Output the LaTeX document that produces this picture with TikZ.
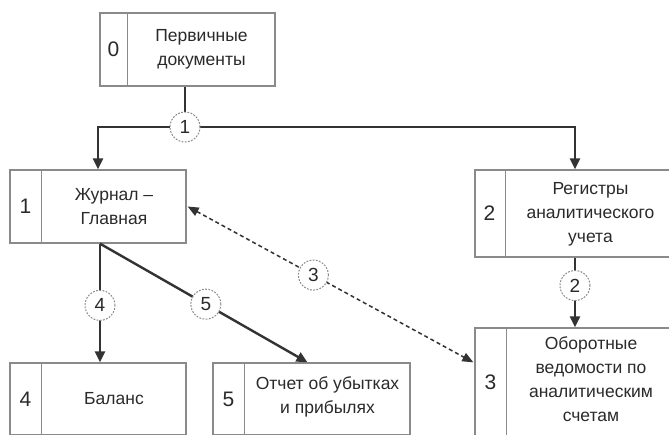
\documentclass[tikz,border=0pt]{standalone}
\usepackage{fontspec}
\setmainfont{Liberation Sans}
\usetikzlibrary{arrows.meta,calc}
\definecolor{boxgray}{HTML}{8A8A8A}
\definecolor{linegray}{HTML}{333333}
\definecolor{txtgray}{HTML}{2A2A2A}
\tikzset{
  box/.style={draw=boxgray, line width=1.3pt, rectangle, inner sep=0pt},
  divider/.style={draw=boxgray, line width=1.3pt},
  num/.style={font=\fontsize{21}{24}\selectfont, text=txtgray, inner sep=0pt},
  txt/.style={font=\fontsize{17.5}{24}\selectfont, text=txtgray, align=center, inner sep=0pt},
  conn/.style={draw=linegray, line width=2.4pt},
  tip/.style={-{Triangle[length=11pt,width=10pt]}},
  dconn/.style={draw=linegray, line width=1.5pt, dash pattern=on 4pt off 3pt},
  circ/.style={circle, draw=boxgray, line width=1pt, dash pattern=on 1.8pt off 1.4pt,
    fill=white, minimum size=30pt, inner sep=0pt, text=txtgray,
    font=\fontsize{19}{22}\selectfont}
}
\begin{document}
\begin{tikzpicture}[x=1pt,y=-1pt]
\useasboundingbox (0,0) rectangle (669,434);
\clip (0,0) rectangle (669,434);
\fill[white] (0,0) rectangle (669,434);
% boxes
\node[box, minimum width=175pt, minimum height=73pt] (b0) at (187.5,49.5) {};
\node[box, minimum width=176pt, minimum height=73pt] (b1) at (98,206.5) {};
\node[box, minimum width=200pt, minimum height=87pt] (b2) at (575,213.5) {};
\node[box, minimum width=200pt, minimum height=108pt] (b3) at (575,382) {};
\node[box, minimum width=176pt, minimum height=72pt] (b4) at (98,399) {};
\node[box, minimum width=197pt, minimum height=72pt] (b5) at (311.5,399) {};
% dividers
\foreach \b/\d in {b0/28, b1/32, b2/31, b3/32, b4/32, b5/32}{
  \draw[divider] ($(\b.north west)+(\d,0)$) -- ($(\b.south west)+(\d,0)$);
}
% numbers
\node[num] (n0) at ($(b0.west)+(14,0)$) {0};
\node[num] (n1) at ($(b1.west)+(16,0)$) {1};
\node[num] (n2) at ($(b2.west)+(15,0)$) {2};
\node[num] (n3) at ($(b3.west)+(16,0)$) {3};
\node[num] (n4) at ($(b4.west)+(16,0)$) {4};
\node[num] (n5) at ($(b5.west)+(16,0)$) {5};
% texts
\node[txt] (t0) at ($(b0.center)+(14,0)$) {Первичные\\документы};
\node[txt] (t1) at ($(b1.center)+(16,0)$) {Журнал –\\Главная};
\node[txt] (t2) at ($(b2.center)+(15.5,1)$) {Регистры\\аналитического\\учета};
\node[txt] (t3) at ($(b3.center)+(16,-3)$) {Оборотные\\ведомости по\\аналитическим\\счетам};
\node[txt] (t4) at ($(b4.center)+(16,0)$) {Баланс};
\node[txt] (t5) at ($(b5.center)+(16,-2)$) {Отчет об убытках\\и прибылях};
% connectors
\coordinate (j1) at (185,127);
\draw[conn] (j1 |- b0.south) -- (j1);
\draw[conn,tip] (j1) -| (b1.north);
\draw[conn,tip] (j1) -| (b2.north);
\node[circ] (c1) at (j1) {1};
\draw[conn,tip] (b2.south) -- node[circ,pos=0.4] (c2) {2} (b3.north);
\draw[conn,tip] ($(b1.south)+(2,0)$) -- node[circ,pos=0.52] (c4) {4} ($(b4.north)+(2,0)$);
\draw[conn,tip] ($(b1.south)+(2,0)$) -- node[circ,pos=0.51] (c5) {5} ($(b5.north)+(-4,0)$);
\draw[dconn,{Triangle[length=11pt,width=9pt]}-{Triangle[length=11pt,width=9pt]}]
  ($(b1.east)+(1,0)$) -- node[circ,pos=0.44] (c3) {3} ($(b3.north west)+(-1,35)$);
\end{tikzpicture}
\end{document}
